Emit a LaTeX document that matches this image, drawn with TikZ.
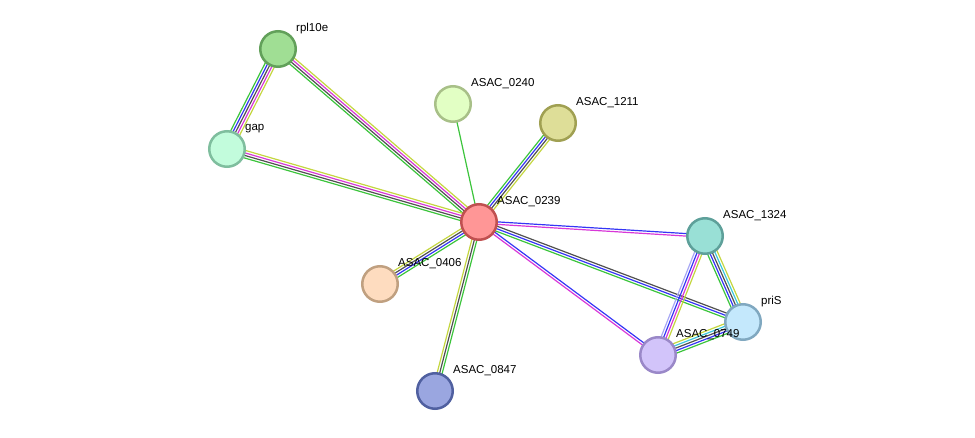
\documentclass[tikz,border=0pt]{standalone}
\usepackage{fontspec}
\setmainfont{Liberation Sans}
\usetikzlibrary{calc,backgrounds}
\definecolor{eGreen}{HTML}{3CC43C}
\definecolor{eBlue}{HTML}{3535F5}
\definecolor{eDark}{HTML}{505050}
\definecolor{eMag}{HTML}{D838D8}
\definecolor{eYel}{HTML}{C4D640}
\definecolor{eCyan}{HTML}{3CC8DC}
\definecolor{eLav}{HTML}{A8A8F4}
\tikzset{
  prot/.style={circle, minimum size=35.5pt, inner sep=0pt, line width=2.5pt},
  lbl/.style={anchor=west, inner sep=0pt, font=\fontsize{11.5}{13}\selectfont},
}
\newcommand\stredge[4]{%
  \foreach \c [count=\i] in {#4} {%
    \pgfmathsetmacro\off{(\i-(#3+1)/2)*2.5}%
    \draw[line width=1.2pt, color=\c] ($(#1)!\off pt!90:(#2)$) -- ($(#2)!\off pt!-90:(#1)$);
  }%
}
\begin{document}
\begin{tikzpicture}[x=1pt,y=-1pt]
\useasboundingbox (0,0) rectangle (975,438);
% nodes
\node[prot, draw={rgb,255:red,98;green,160;blue,90}, fill={rgb,255:red,160;green,222;blue,148}] (rpl) at (278,49) {};
\node[prot, draw={rgb,255:red,127;green,190;blue,158}, fill={rgb,255:red,194;green,252;blue,220}] (gap) at (227,149) {};
\node[prot, draw={rgb,255:red,168;green,192;blue,136}, fill={rgb,255:red,226;green,255;blue,196}] (a240) at (453,104) {};
\node[prot, draw={rgb,255:red,160;green,160;blue,82}, fill={rgb,255:red,222;green,222;blue,152}] (a1211) at (558,123) {};
\node[prot, draw={rgb,255:red,192;green,80;blue,80}, fill={rgb,255:red,255;green,150;blue,150}] (a239) at (479,222) {};
\node[prot, draw={rgb,255:red,94;green,160;blue,154}, fill={rgb,255:red,153;green,224;blue,214}] (a1324) at (705,236) {};
\node[prot, draw={rgb,255:red,128;green,168;blue,192}, fill={rgb,255:red,196;green,232;blue,252}] (pri) at (743,322) {};
\node[prot, draw={rgb,255:red,154;green,136;blue,200}, fill={rgb,255:red,210;green,196;blue,250}] (a749) at (658,355) {};
\node[prot, draw={rgb,255:red,192;green,160;blue,128}, fill={rgb,255:red,254;green,220;blue,191}] (a406) at (380,284) {};
\node[prot, draw={rgb,255:red,80;green,96;blue,160}, fill={rgb,255:red,154;green,166;blue,224}] (a847) at (435,391) {};
% edges
\begin{scope}[on background layer]
\stredge{rpl}{gap}{5}{eGreen,eBlue,eDark,eMag,eYel}
\stredge{rpl}{a239}{4}{eGreen,eDark,eMag,eYel}
\stredge{gap}{a239}{4}{eGreen,eDark,eMag,eYel}
\stredge{a240}{a239}{1}{eGreen}
\stredge{a1211}{a239}{4}{eGreen,eBlue,eDark,eYel}
\stredge{a239}{a1324}{2}{eMag,eBlue}
\stredge{a239}{pri}{3}{eGreen,eBlue,eDark}
\stredge{a239}{a749}{2}{eMag,eBlue}
\stredge{a1324}{a749}{4}{eLav,eBlue,eMag,eYel}
\stredge{a1324}{pri}{5}{eGreen,eBlue,eDark,eCyan,eYel}
\stredge{pri}{a749}{5}{eYel,eCyan,eDark,eBlue,eGreen}
\stredge{a239}{a406}{4}{eYel,eDark,eBlue,eGreen}
\stredge{a239}{a847}{3}{eYel,eDark,eGreen}
\end{scope}
% labels
\node[lbl] (l1) at ($(rpl)+(18,-20)$) {rpl10e};
\node[lbl] (l2) at ($(gap)+(18,-20)$) {gap};
\node[lbl] (l3) at ($(a240)+(18,-20)$) {ASAC\_0240};
\node[lbl] (l4) at ($(a1211)+(18,-20)$) {ASAC\_1211};
\node[lbl] (l5) at ($(a239)+(18,-20)$) {ASAC\_0239};
\node[lbl] (l6) at ($(a1324)+(18,-20)$) {ASAC\_1324};
\node[lbl] (l7) at ($(pri)+(18,-20)$) {priS};
\node[lbl] (l8) at ($(a749)+(18,-20)$) {ASAC\_0749};
\node[lbl] (l9) at ($(a406)+(18,-20)$) {ASAC\_0406};
\node[lbl] (l10) at ($(a847)+(18,-20)$) {ASAC\_0847};
\end{tikzpicture}
\end{document}
